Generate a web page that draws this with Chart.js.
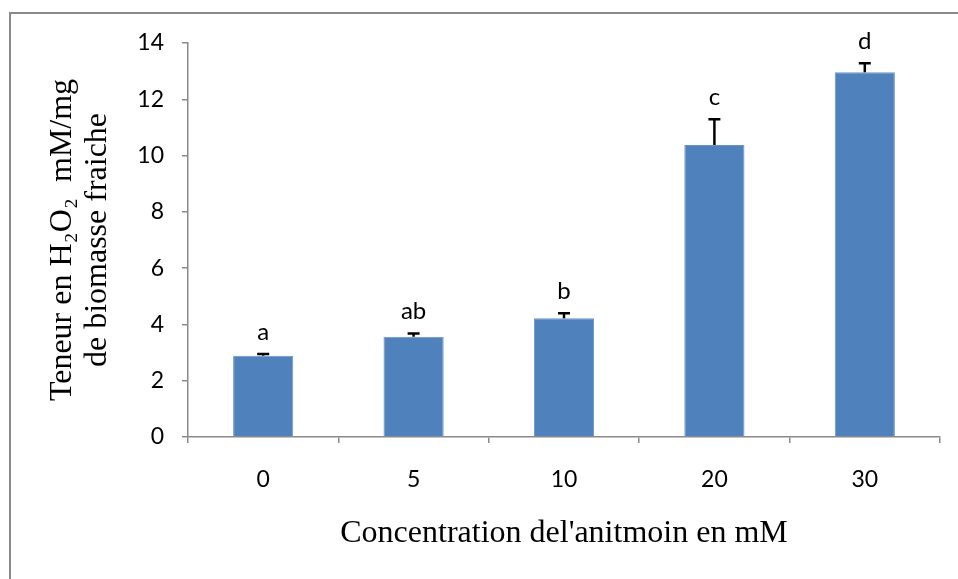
<!DOCTYPE html>
<html>
<head>
<meta charset="utf-8">
<script src="https://cdn.jsdelivr.net/npm/chart.js@4"></script>
<style>
  html, body { margin: 0; padding: 0; background: #fff; overflow: hidden; }
  #wrap { position: relative; width: 958px; height: 579px; }
  #cadre { position: absolute; left: 9px; top: 12px; width: 1000px; height: 700px;
           border-left: 2px solid #8a8a8a; border-top: 2px solid #8a8a8a; }
  canvas { position: absolute; left: 0; top: 0; }
</style>
</head>
<body>
<div id="wrap">
  <div id="cadre"></div>
  <canvas id="myChart" width="958" height="579"></canvas>
</div>
<script>
// Données
var concentrations = ["0", "5", "10", "20", "30"];
var teneurH2O2 = [2.89, 3.56, 4.22, 10.38, 12.96];
var erreurs = [0.06, 0.12, 0.18, 0.91, 0.32];
var lettres = ["a", "ab", "b", "c", "d"];
var yTicks = [0, 2, 4, 6, 8, 10, 12, 14];

var sansFont = "Lato, 'Open Sans', sans-serif";
var serifFont = "'Liberation Serif', 'Times New Roman', serif";

// barres d'erreur (vers le haut seulement) + lettres de significativité
var errorBars = {
  id: "errorBars",
  afterDatasetsDraw: function (chart) {
    var ctx = chart.ctx;
    var meta = chart.getDatasetMeta(0);
    var yScale = chart.scales.y;
    ctx.save();
    ctx.strokeStyle = "#000";
    ctx.lineWidth = 2.5;
    meta.data.forEach(function (bar, i) {
      var yTop = yScale.getPixelForValue(teneurH2O2[i] + erreurs[i]);
      var yBase = yScale.getPixelForValue(teneurH2O2[i]);
      ctx.beginPath();
      ctx.moveTo(bar.x, yBase);
      ctx.lineTo(bar.x, yTop);
      ctx.moveTo(bar.x - 6, yTop);
      ctx.lineTo(bar.x + 6, yTop);
      ctx.stroke();
      ctx.fillStyle = "#000";
      ctx.font = "24px " + sansFont;
      ctx.textAlign = "center";
      ctx.textBaseline = "middle";
      ctx.fillText(lettres[i], bar.x, yTop - 22);
    });
    ctx.restore();
  }
};

new Chart("myChart", {
  type: "bar",
  data: {
    labels: concentrations,
    datasets: [
      {
        data: teneurH2O2,
        backgroundColor: "#4F81BD",
        borderColor: "#6a93c8",
        borderWidth: 1,
        barPercentage: 0.4,
        categoryPercentage: 1.0
      }
    ]
  },
  options: {
    responsive: false,
    animation: false,
    layout: { padding: { top: 43, right: 18, left: 0, bottom: 0 } },
    plugins: {
      legend: false,
      tooltip: { enabled: false }
    },
    scales: {
      x: {
        grid: { drawOnChartArea: false, drawTicks: true, tickLength: 6, color: "#8a8a8a", lineWidth: 1.5 },
        border: { color: "#8a8a8a", width: 1.5 },
        ticks: { color: "#000", padding: 23, font: { family: sansFont, size: 23 } },
        title: {
          display: true,
          text: "Concentration del'anitmoin en mM",
          color: "#000",
          font: { family: serifFont, size: 32 },
          padding: { top: 0, bottom: 26 }
        },
        afterFit: function (scale) { scale.height = 142; }
      },
      y: {
        min: 0,
        max: 14,
        afterBuildTicks: function (scale) {
          scale.ticks = yTicks.map(function (v) { return { value: v }; });
        },
        grid: { drawOnChartArea: false, drawTicks: true, tickLength: 6, color: "#8a8a8a", lineWidth: 1.5 },
        border: { color: "#8a8a8a", width: 1.5 },
        ticks: { color: "#000", padding: 18, font: { family: sansFont, size: 23 } },
        title: {
          display: true,
          text: ["Teneur en H\u2082O\u2082  mM/mg", "de biomasse fraiche"],
          color: "#000",
          font: { family: serifFont, size: 32, lineHeight: 1.1 },
          padding: { top: 45, bottom: 0 }
        },
        afterFit: function (scale) { scale.width = 188; }
      }
    }
  },
  plugins: [errorBars]
});
</script>
</body>
</html>
